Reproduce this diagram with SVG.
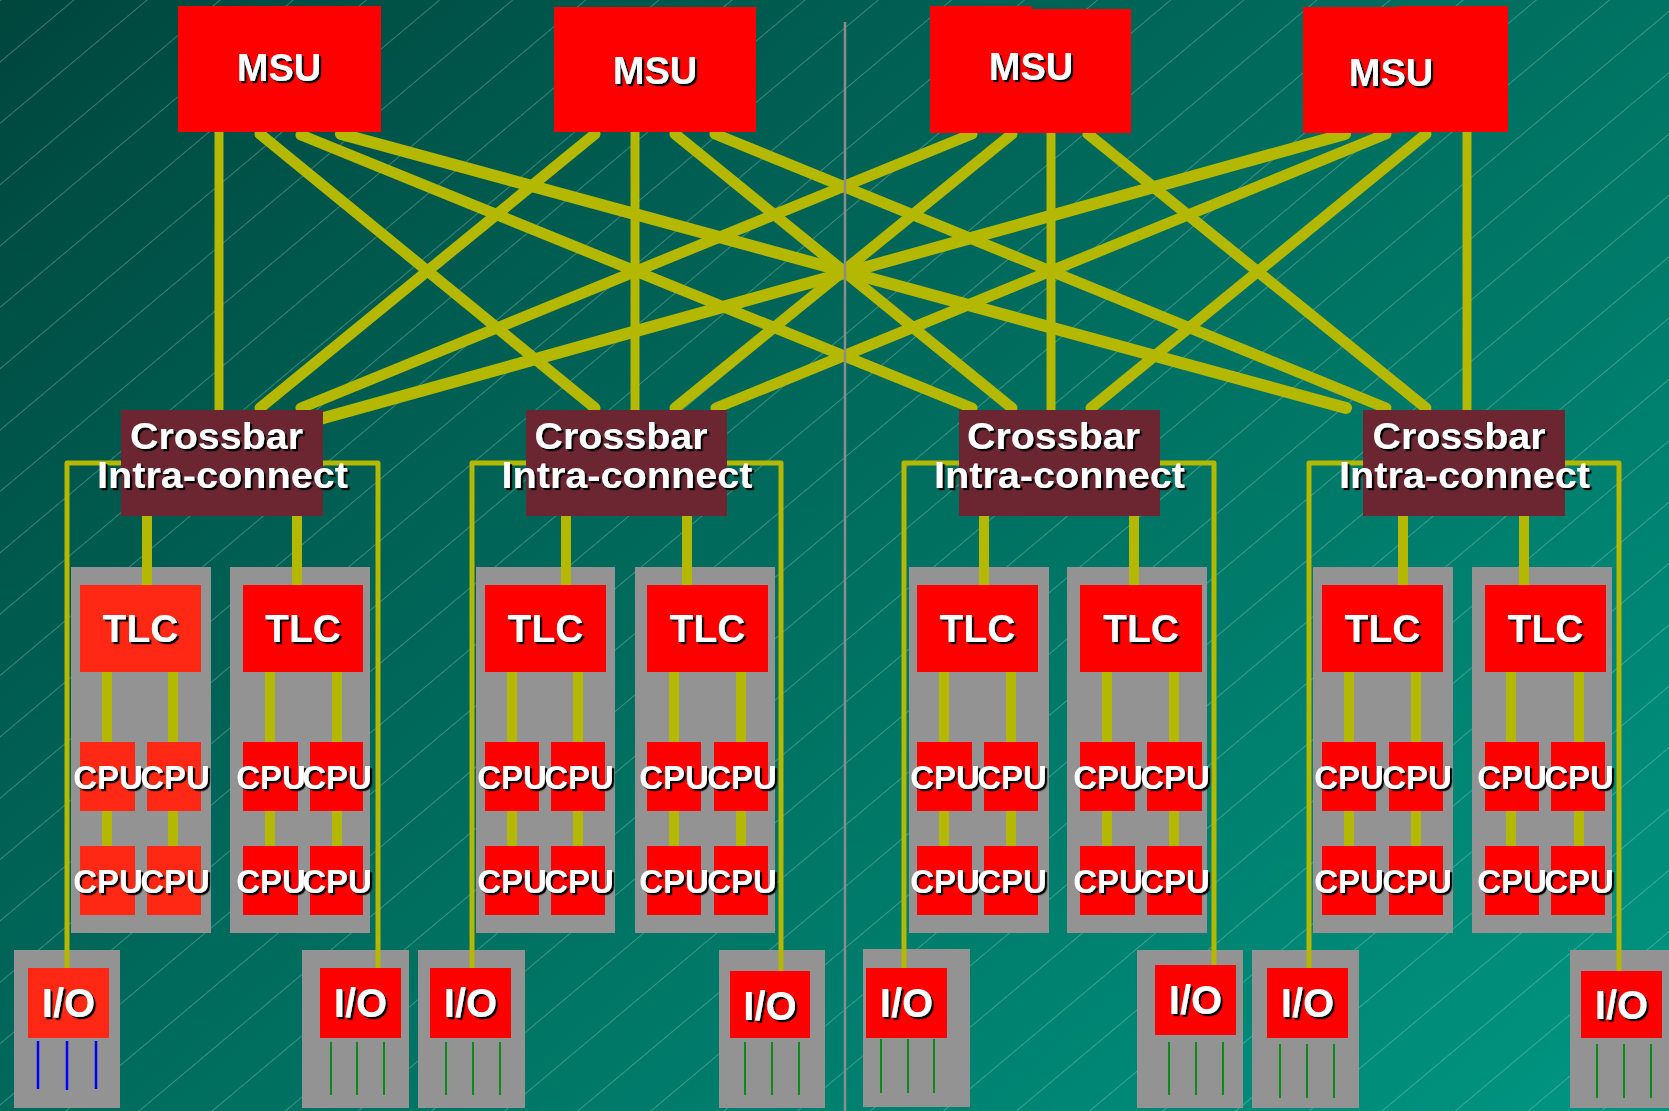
<svg xmlns="http://www.w3.org/2000/svg" width="1669" height="1111" viewBox="0 0 1669 1111">
<defs>
<linearGradient id="bg" gradientUnits="userSpaceOnUse" x1="0" y1="0" x2="1188" y2="1408">
<stop offset="0" stop-color="#00463D"/>
<stop offset="1" stop-color="#00937F"/>
</linearGradient>
<pattern id="hatch" patternUnits="userSpaceOnUse" width="200" height="47" patternTransform="rotate(-40)">
<line x1="0" y1="0.5" x2="200" y2="0.5" stroke="#BFE6DC" stroke-opacity="0.3" stroke-width="1"/>
</pattern>
<filter id="sh" x="-10%" y="-15%" width="130%" height="140%">
<feDropShadow dx="2.2" dy="2.2" stdDeviation="0.4" flood-color="#000" flood-opacity="1"/>
</filter>
<style>
.red{fill:#FF0000}
.org{fill:#FF2814}
.cb{fill:#6B2631}
.cab{fill:#939393}
.lbl{font-family:"Liberation Sans",Arial,sans-serif;font-weight:bold;fill:#FFFFFF;text-anchor:middle;filter:url(#sh)}
.msu{font-size:38px}
.xb{font-size:36px}
.tlc{font-size:39px}
.cpu{font-size:33px}
.iot{font-size:40px}
.w{stroke:#B4B800;fill:none}
.v{stroke-width:9}
.d{stroke-width:11;stroke-linecap:round}
.dd{stroke-width:12;stroke-linecap:round}
.brk{stroke-width:5;stroke-linejoin:round}
.bus{stroke-width:10}
.gb{stroke:#0A8A1A;stroke-width:2}
.bb{stroke:#0000FF;stroke-width:2.5}
</style>
</defs>

<rect x="0" y="0" width="1669" height="1111" fill="url(#bg)"/>
<rect x="0" y="0" width="1669" height="1111" fill="url(#hatch)"/>

<!-- gray housings -->
<g id="cabinets">
<rect class="cab" x="71" y="567" width="140" height="366"/>
<rect class="cab" x="230" y="567" width="140" height="366"/>
<rect class="cab" x="476" y="567" width="139" height="366"/>
<rect class="cab" x="635" y="567" width="140" height="366"/>
<rect class="cab" x="909" y="567" width="140" height="366"/>
<rect class="cab" x="1067" y="567" width="140" height="366"/>
<rect class="cab" x="1313" y="567" width="140" height="366"/>
<rect class="cab" x="1472" y="567" width="140" height="366"/>
<rect class="cab" x="14" y="950" width="106" height="158"/>
<rect class="cab" x="302" y="950" width="107" height="158"/>
<rect class="cab" x="418" y="950" width="107" height="158"/>
<rect class="cab" x="719" y="950" width="106" height="158"/>
<rect class="cab" x="863" y="949" width="107" height="158"/>
<rect class="cab" x="1137" y="950" width="106" height="158"/>
<rect class="cab" x="1252" y="950" width="107" height="158"/>
<rect class="cab" x="1570" y="950" width="106" height="158"/>
</g>

<g id="connectors">
<!-- MSU to crossbar -->
<line class="w v" x1="219" y1="130" x2="219" y2="412"/>
<line class="w v" x1="635" y1="130" x2="635" y2="412"/>
<line class="w v" x1="1051" y1="130" x2="1051" y2="412"/>
<line class="w v" x1="1467" y1="130" x2="1467" y2="412"/>
<line class="w d" x1="260" y1="134" x2="595" y2="408"/>
<line class="w d" x1="301" y1="135" x2="972" y2="408"/>
<line class="w dd" x1="341" y1="134" x2="1346" y2="408"/>
<line class="w d" x1="595" y1="134" x2="260" y2="408"/>
<line class="w d" x1="675" y1="134" x2="1012" y2="408"/>
<line class="w d" x1="715" y1="134" x2="1386" y2="408"/>
<line class="w d" x1="972" y1="134" x2="301" y2="408"/>
<line class="w d" x1="1012" y1="134" x2="675" y2="408"/>
<line class="w d" x1="1088" y1="134" x2="1426" y2="408"/>
<line class="w dd" x1="1345" y1="134" x2="320" y2="419"/>
<line class="w d" x1="1386" y1="134" x2="716" y2="408"/>
<line class="w d" x1="1426" y1="134" x2="1091" y2="408"/>
<!-- crossbar to I/O -->
<polyline class="w brk" points="67,968 67,463 378,463 378,968"/>
<polyline class="w brk" points="472,968 472,463 781,463 781,971"/>
<polyline class="w brk" points="904,968 904,463 1214,463 1214,965"/>
<polyline class="w brk" points="1309,968 1309,463 1619,463 1619,971"/>
<!-- crossbar to TLC -->
<line class="w bus" x1="147" y1="516" x2="147" y2="585"/>
<line class="w bus" x1="297" y1="516" x2="297" y2="585"/>
<line class="w bus" x1="566" y1="516" x2="566" y2="585"/>
<line class="w bus" x1="687" y1="516" x2="687" y2="585"/>
<line class="w bus" x1="984" y1="516" x2="984" y2="585"/>
<line class="w bus" x1="1134" y1="516" x2="1134" y2="585"/>
<line class="w bus" x1="1403" y1="516" x2="1403" y2="585"/>
<line class="w bus" x1="1524" y1="516" x2="1524" y2="585"/>
<!-- TLC to CPU -->
<line class="w bus" x1="107" y1="672" x2="107" y2="846"/>
<line class="w bus" x1="173" y1="672" x2="173" y2="846"/>
<line class="w bus" x1="270" y1="672" x2="270" y2="846"/>
<line class="w bus" x1="337" y1="672" x2="337" y2="846"/>
<line class="w bus" x1="512" y1="672" x2="512" y2="846"/>
<line class="w bus" x1="578" y1="672" x2="578" y2="846"/>
<line class="w bus" x1="674" y1="672" x2="674" y2="846"/>
<line class="w bus" x1="741" y1="672" x2="741" y2="846"/>
<line class="w bus" x1="944" y1="672" x2="944" y2="846"/>
<line class="w bus" x1="1011" y1="672" x2="1011" y2="846"/>
<line class="w bus" x1="1107" y1="672" x2="1107" y2="846"/>
<line class="w bus" x1="1174" y1="672" x2="1174" y2="846"/>
<line class="w bus" x1="1349" y1="672" x2="1349" y2="846"/>
<line class="w bus" x1="1416" y1="672" x2="1416" y2="846"/>
<line class="w bus" x1="1511" y1="672" x2="1511" y2="846"/>
<line class="w bus" x1="1579" y1="672" x2="1579" y2="846"/>
</g>

<line id="divider" x1="845" y1="22" x2="845" y2="1111" stroke="#8C8C8C" stroke-width="2.5"/>

<!-- MSUs -->
<g id="msu1"><rect class="red" x="178" y="6" width="203" height="126"/><text class="lbl msu" x="279" y="81">MSU</text></g>
<g id="msu2"><rect class="red" x="554" y="7" width="202" height="125"/><text class="lbl msu" x="655" y="84">MSU</text></g>
<g id="msu3"><rect class="red" x="930" y="6" width="102" height="127"/><rect class="red" x="1031" y="9" width="100" height="124"/><text class="lbl msu" x="1031" y="80">MSU</text></g>
<g id="msu4"><rect class="red" x="1303" y="7" width="96" height="126"/><rect class="red" x="1398" y="6" width="110" height="126"/><text class="lbl msu" x="1391" y="86">MSU</text></g>

<!-- Crossbars -->
<g id="cb1"><rect class="cb" x="121" y="410" width="202" height="106"/><text class="lbl xb" x="216.5" y="449" textLength="173" lengthAdjust="spacingAndGlyphs">Crossbar</text><text class="lbl xb" x="222.5" y="488" textLength="251" lengthAdjust="spacingAndGlyphs">Intra-connect</text></g>
<g id="cb2"><rect class="cb" x="526" y="410" width="201" height="106"/><text class="lbl xb" x="621" y="449" textLength="173" lengthAdjust="spacingAndGlyphs">Crossbar</text><text class="lbl xb" x="627" y="488" textLength="251" lengthAdjust="spacingAndGlyphs">Intra-connect</text></g>
<g id="cb3"><rect class="cb" x="959" y="410" width="201" height="106"/><text class="lbl xb" x="1053.5" y="449" textLength="173" lengthAdjust="spacingAndGlyphs">Crossbar</text><text class="lbl xb" x="1059.5" y="488" textLength="251" lengthAdjust="spacingAndGlyphs">Intra-connect</text></g>
<g id="cb4"><rect class="cb" x="1363" y="410" width="202" height="106"/><text class="lbl xb" x="1459" y="449" textLength="173" lengthAdjust="spacingAndGlyphs">Crossbar</text><text class="lbl xb" x="1464.5" y="488" textLength="251" lengthAdjust="spacingAndGlyphs">Intra-connect</text></g>

<!-- TLCs -->
<g id="tlc1"><rect class="org" x="80" y="585" width="121" height="87"/><text class="lbl tlc" x="140.5" y="642">TLC</text></g>
<g id="tlc2"><rect class="red" x="243" y="585" width="120" height="87"/><text class="lbl tlc" x="303" y="642">TLC</text></g>
<g id="tlc3"><rect class="red" x="485" y="585" width="121" height="87"/><text class="lbl tlc" x="545.5" y="642">TLC</text></g>
<g id="tlc4"><rect class="red" x="647" y="585" width="121" height="87"/><text class="lbl tlc" x="707.5" y="642">TLC</text></g>
<g id="tlc5"><rect class="red" x="917" y="585" width="121" height="87"/><text class="lbl tlc" x="977.5" y="642">TLC</text></g>
<g id="tlc6"><rect class="red" x="1080" y="585" width="122" height="87"/><text class="lbl tlc" x="1141" y="642">TLC</text></g>
<g id="tlc7"><rect class="red" x="1322" y="585" width="121" height="87"/><text class="lbl tlc" x="1382.5" y="642">TLC</text></g>
<g id="tlc8"><rect class="red" x="1485" y="585" width="121" height="87"/><text class="lbl tlc" x="1545.5" y="642">TLC</text></g>

<!-- CPUs -->
<g id="cpu1-1"><rect class="org" x="80" y="742" width="55" height="69"/><text class="lbl cpu" x="108" y="788.5">CPU</text></g>
<g id="cpu1-2"><rect class="org" x="147" y="742" width="54" height="69"/><text class="lbl cpu" x="175" y="788.5">CPU</text></g>
<g id="cpu1-3"><rect class="org" x="80" y="846" width="55" height="69"/><text class="lbl cpu" x="108" y="893">CPU</text></g>
<g id="cpu1-4"><rect class="org" x="147" y="846" width="54" height="69"/><text class="lbl cpu" x="175" y="893">CPU</text></g>
<g id="cpu2-1"><rect class="red" x="243" y="742" width="55" height="69"/><text class="lbl cpu" x="271" y="788.5">CPU</text></g>
<g id="cpu2-2"><rect class="red" x="310" y="742" width="53" height="69"/><text class="lbl cpu" x="337" y="788.5">CPU</text></g>
<g id="cpu2-3"><rect class="red" x="243" y="846" width="55" height="69"/><text class="lbl cpu" x="271" y="893">CPU</text></g>
<g id="cpu2-4"><rect class="red" x="310" y="846" width="53" height="69"/><text class="lbl cpu" x="337" y="893">CPU</text></g>
<g id="cpu3-1"><rect class="red" x="485" y="742" width="54" height="69"/><text class="lbl cpu" x="512" y="788.5">CPU</text></g>
<g id="cpu3-2"><rect class="red" x="551" y="742" width="54" height="69"/><text class="lbl cpu" x="579" y="788.5">CPU</text></g>
<g id="cpu3-3"><rect class="red" x="485" y="846" width="54" height="69"/><text class="lbl cpu" x="512" y="893">CPU</text></g>
<g id="cpu3-4"><rect class="red" x="551" y="846" width="54" height="69"/><text class="lbl cpu" x="579" y="893">CPU</text></g>
<g id="cpu4-1"><rect class="red" x="647" y="742" width="54" height="69"/><text class="lbl cpu" x="674" y="788.5">CPU</text></g>
<g id="cpu4-2"><rect class="red" x="714" y="742" width="54" height="69"/><text class="lbl cpu" x="742" y="788.5">CPU</text></g>
<g id="cpu4-3"><rect class="red" x="647" y="846" width="54" height="69"/><text class="lbl cpu" x="674" y="893">CPU</text></g>
<g id="cpu4-4"><rect class="red" x="714" y="846" width="54" height="69"/><text class="lbl cpu" x="742" y="893">CPU</text></g>
<g id="cpu5-1"><rect class="red" x="917" y="742" width="55" height="69"/><text class="lbl cpu" x="945" y="788.5">CPU</text></g>
<g id="cpu5-2"><rect class="red" x="984" y="742" width="54" height="69"/><text class="lbl cpu" x="1012" y="788.5">CPU</text></g>
<g id="cpu5-3"><rect class="red" x="917" y="846" width="55" height="69"/><text class="lbl cpu" x="945" y="893">CPU</text></g>
<g id="cpu5-4"><rect class="red" x="984" y="846" width="54" height="69"/><text class="lbl cpu" x="1012" y="893">CPU</text></g>
<g id="cpu6-1"><rect class="red" x="1080" y="742" width="55" height="69"/><text class="lbl cpu" x="1108" y="788.5">CPU</text></g>
<g id="cpu6-2"><rect class="red" x="1147" y="742" width="55" height="69"/><text class="lbl cpu" x="1175" y="788.5">CPU</text></g>
<g id="cpu6-3"><rect class="red" x="1080" y="846" width="55" height="69"/><text class="lbl cpu" x="1108" y="893">CPU</text></g>
<g id="cpu6-4"><rect class="red" x="1147" y="846" width="55" height="69"/><text class="lbl cpu" x="1175" y="893">CPU</text></g>
<g id="cpu7-1"><rect class="red" x="1322" y="742" width="54" height="69"/><text class="lbl cpu" x="1349" y="788.5">CPU</text></g>
<g id="cpu7-2"><rect class="red" x="1389" y="742" width="54" height="69"/><text class="lbl cpu" x="1417" y="788.5">CPU</text></g>
<g id="cpu7-3"><rect class="red" x="1322" y="846" width="54" height="69"/><text class="lbl cpu" x="1349" y="893">CPU</text></g>
<g id="cpu7-4"><rect class="red" x="1389" y="846" width="54" height="69"/><text class="lbl cpu" x="1417" y="893">CPU</text></g>
<g id="cpu8-1"><rect class="red" x="1485" y="742" width="54" height="69"/><text class="lbl cpu" x="1512" y="788.5">CPU</text></g>
<g id="cpu8-2"><rect class="red" x="1551" y="742" width="54" height="69"/><text class="lbl cpu" x="1579" y="788.5">CPU</text></g>
<g id="cpu8-3"><rect class="red" x="1485" y="846" width="54" height="69"/><text class="lbl cpu" x="1512" y="893">CPU</text></g>
<g id="cpu8-4"><rect class="red" x="1551" y="846" width="54" height="69"/><text class="lbl cpu" x="1579" y="893">CPU</text></g>

<!-- I/O -->
<g id="io1"><rect class="org" x="28" y="968" width="81" height="70"/><text class="lbl iot" x="68.5" y="1017">I/O</text><line class="bb" x1="38" y1="1041" x2="38" y2="1089"/><line class="bb" x1="67" y1="1041" x2="67" y2="1090"/><line class="bb" x1="96" y1="1041" x2="96" y2="1089"/></g>
<g id="io2"><rect class="red" x="320" y="968" width="81" height="70"/><text class="lbl iot" x="360.5" y="1017">I/O</text><line class="gb" x1="331" y1="1042" x2="331" y2="1095"/><line class="gb" x1="357" y1="1042" x2="357" y2="1095"/><line class="gb" x1="384" y1="1042" x2="384" y2="1095"/></g>
<g id="io3"><rect class="red" x="430" y="968" width="81" height="70"/><text class="lbl iot" x="470.5" y="1017">I/O</text><line class="gb" x1="446" y1="1042" x2="446" y2="1095"/><line class="gb" x1="473" y1="1042" x2="473" y2="1095"/><line class="gb" x1="500" y1="1042" x2="500" y2="1095"/></g>
<g id="io4"><rect class="red" x="730" y="971" width="80" height="67"/><text class="lbl iot" x="770" y="1020">I/O</text><line class="gb" x1="745" y1="1042" x2="745" y2="1095"/><line class="gb" x1="772" y1="1042" x2="772" y2="1095"/><line class="gb" x1="799" y1="1042" x2="799" y2="1095"/></g>
<g id="io5"><rect class="red" x="866" y="968" width="81" height="70"/><text class="lbl iot" x="906.5" y="1017">I/O</text><line class="gb" x1="881" y1="1039" x2="881" y2="1093"/><line class="gb" x1="908" y1="1039" x2="908" y2="1093"/><line class="gb" x1="934" y1="1039" x2="934" y2="1093"/></g>
<g id="io6"><rect class="red" x="1155" y="965" width="81" height="70"/><text class="lbl iot" x="1195.5" y="1014">I/O</text><line class="gb" x1="1169" y1="1042" x2="1169" y2="1095"/><line class="gb" x1="1196" y1="1042" x2="1196" y2="1095"/><line class="gb" x1="1223" y1="1042" x2="1223" y2="1095"/></g>
<g id="io7"><rect class="red" x="1267" y="968" width="81" height="70"/><text class="lbl iot" x="1307.5" y="1017">I/O</text><line class="gb" x1="1280" y1="1044" x2="1280" y2="1098"/><line class="gb" x1="1307" y1="1044" x2="1307" y2="1098"/><line class="gb" x1="1334" y1="1044" x2="1334" y2="1098"/></g>
<g id="io8"><rect class="red" x="1581" y="971" width="81" height="67"/><text class="lbl iot" x="1621.5" y="1019">I/O</text><line class="gb" x1="1597" y1="1044" x2="1597" y2="1098"/><line class="gb" x1="1624" y1="1044" x2="1624" y2="1098"/><line class="gb" x1="1651" y1="1044" x2="1651" y2="1098"/></g>
</svg>
